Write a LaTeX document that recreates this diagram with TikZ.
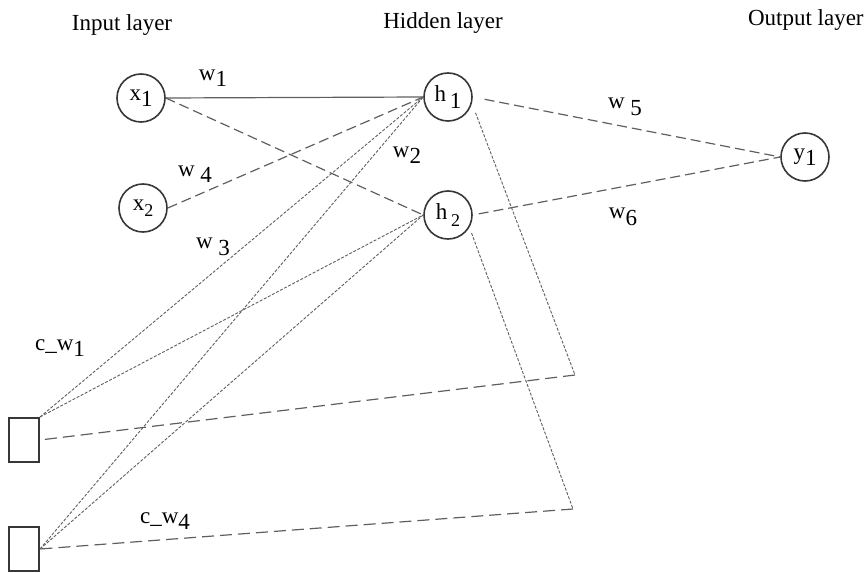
\documentclass[tikz,border=0pt]{standalone}
\usepackage{fontspec}
\setmainfont{Liberation Serif}
\usetikzlibrary{positioning}
\definecolor{linegray}{RGB}{95,95,95}
\definecolor{rimgray}{RGB}{55,55,55}
\tikzset{
  neuron/.style={circle, draw=rimgray, line width=0.8pt, minimum size=24pt,
                 inner sep=0pt, font=\fontsize{11.5}{12}\selectfont},
  ctxbox/.style={rectangle, draw=rimgray, line width=1pt, minimum width=15pt,
                 minimum height=22pt, inner sep=0pt},
  hdr/.style={font=\fontsize{11.5}{13}\selectfont, inner sep=0pt},
  wlbl/.style={font=\fontsize{11.5}{13}\selectfont, inner sep=0pt},
  fixw/.style={draw=linegray, line width=0.6pt},
  longdash/.style={draw=linegray, line width=0.6pt, dash pattern=on 5pt off 2.5pt},
  finedash/.style={draw=linegray, line width=0.45pt, dash pattern=on 1.5pt off 0.8pt},
  backdash/.style={draw=linegray, line width=0.6pt, dash pattern=on 6pt off 3pt}
}
\newcommand{\lsub}[2]{#1\raisebox{-.6ex}{#2}}

\begin{document}
\begin{tikzpicture}[x=0.5pt, y=-0.5pt]
\useasboundingbox (0,0) rectangle (866,572);
% layer titles
\node[hdr] (hin) at (122,25) {Input layer};
\node[hdr] (hhid) at (443,23) {Hidden layer};
\node[hdr, anchor=east] (hout) at (864,20) {Output layer};
% neurons
\node[neuron] (x1) at (141,98) {\lsub{x}{1}};
\node[neuron] (x2) at (143,208) {\lsub{x}{\small 2}};
\node[neuron] (h1) at (448,97) {\lsub{h}{\,1}};
\node[neuron] (h2) at (448,215) {\lsub{h}{\,\small 2}};
\node[neuron] (y1) at (805,157) {\lsub{y}{1}};
% context units
\node[ctxbox] (c1) at (24,440) {};
\node[ctxbox] (c2) at (24,549) {};
\coordinate (k1) at (575,375);
\coordinate (k2) at (573,509);
% weights
\draw[fixw] (x1.east) -- (h1.west);
\draw[longdash] (x1.east) -- (h2.west);
\draw[longdash] (x2.east) -- (h1.west);
\draw[finedash] (c1.north east) -- (h1.west);
\draw[finedash] (c1.north east) -- (h2.west);
\draw[finedash] (c2.east) -- (h1.west);
\draw[finedash] (c2.east) -- (h2.west);
\draw[longdash, shorten <=6pt] (h1.east) -- (y1.west);
\draw[longdash, shorten <=3pt] (h2.east) -- (y1.west);
% copies back to context
\draw[finedash, shorten <=5pt] (h1.-15) -- (k1);
\draw[finedash, shorten <=3pt] (h2.-30) -- (k2);
\draw[backdash] (k1) -- (c1.east);
\draw[backdash] (k2) -- (c2.east);
% labels
\node[wlbl] (lw1) at (213,78) {\lsub{w}{1}};
\node[wlbl] (lw4) at (195,174) {\lsub{w}{ 4}};
\node[wlbl] (lw3) at (213,247) {\lsub{w}{ 3}};
\node[wlbl] (lw2) at (407,155) {\lsub{w}{2}};
\node[wlbl] (lw5) at (625,107) {\lsub{w}{ 5}};
\node[wlbl] (lw6) at (623,217) {\lsub{w}{6}};
\node[wlbl] (lcw1) at (60,348) {c\_\lsub{w}{1}};
\node[wlbl] (lcw4) at (165,521) {c\_\lsub{w}{4}};
\end{tikzpicture}
\end{document}
